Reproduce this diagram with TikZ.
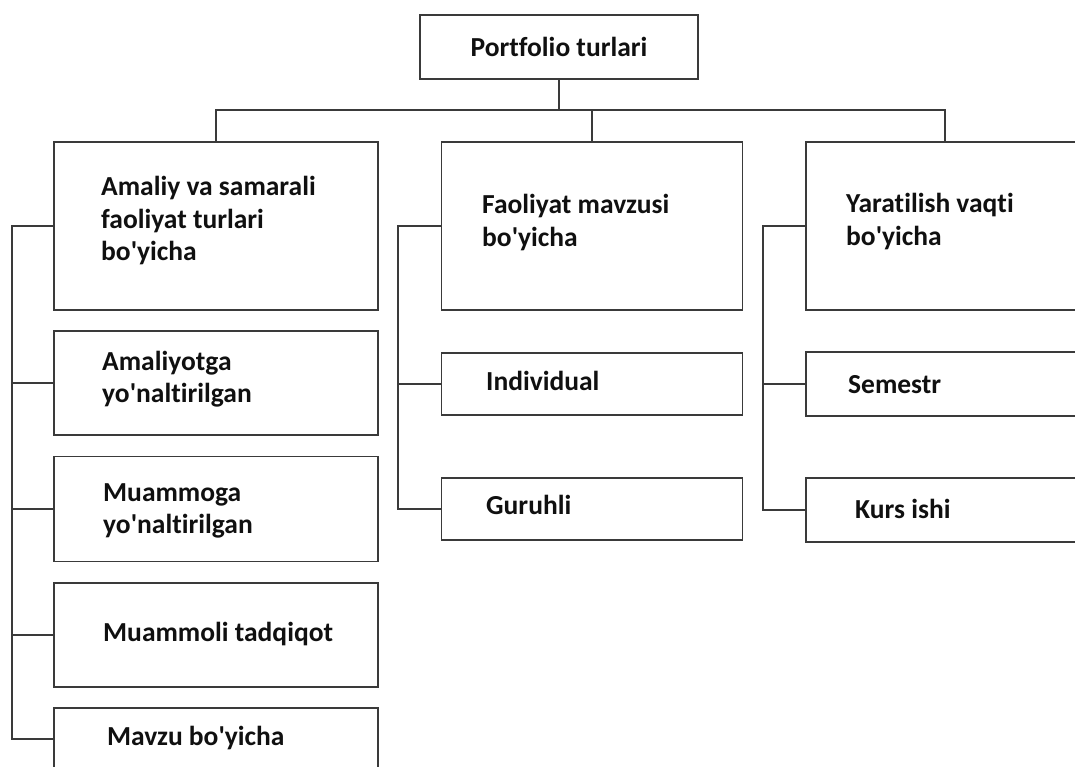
\documentclass[tikz,border=0pt]{standalone}
\usepackage{fontspec}
\setmainfont{Carlito}[Ligatures=NoCommon]
\definecolor{linegray}{HTML}{3a3a3a}
\definecolor{textblack}{HTML}{101010}
\newcommand{\ap}{\textquotesingle}
\newcommand{\lblfont}{\bfseries\fontsize{27.5}{32.5}\selectfont}
\newcommand{\txtlines}[1]{\begin{tabular}[t]{@{}l@{}}#1\end{tabular}}
\begin{document}
\begin{tikzpicture}[x=1pt,y=-1pt,
  box/.style={draw=linegray, line width=1.7pt, rectangle, inner sep=0pt},
  lbl/.style={anchor=base west, inner sep=0pt, font=\lblfont, text=textblack},
  conn/.style={draw=linegray, line width=1.7pt}]
\clip (0,0) rectangle (1075,767);
\fill[white] (0,0) rectangle (1075,767);
% top
\node[box, minimum width=278pt, minimum height=64pt, font=\lblfont, text=textblack] (top) at (559,47) {Portfolio turlari};
% left column
\node[box, minimum width=324pt, minimum height=168pt] (L1) at (216,226) {};
\node[box, minimum width=324pt, minimum height=104pt] (L2) at (216,383) {};
\node[box, minimum width=324pt, minimum height=105pt] (L3) at (216,509) {};
\node[box, minimum width=324pt, minimum height=104pt] (L4) at (216,635) {};
\node[box, minimum width=324pt, minimum height=62pt] (L5) at (216,739) {};
% middle column
\node[box, minimum width=301pt, minimum height=168pt] (M1) at (592,226) {};
\node[box, minimum width=301pt, minimum height=62pt] (M2) at (592,384) {};
\node[box, minimum width=301pt, minimum height=62pt] (M3) at (592,509) {};
% right column
\node[box, minimum width=278pt, minimum height=168pt] (R1) at (945,226) {};
\node[box, minimum width=278pt, minimum height=64pt] (R2) at (945,384) {};
\node[box, minimum width=278pt, minimum height=64pt] (R3) at (945,510) {};
% texts
\node[lbl] (tL1) at (101,196) {\txtlines{Amaliy va samarali\\faoliyat turlari\\bo\ap yicha}};
\node[lbl] (tL2) at (102,370) {\txtlines{Amaliyotga\\yo\ap naltirilgan}};
\node[lbl] (tL3) at (103,501) {\txtlines{Muammoga\\yo\ap naltirilgan}};
\node[lbl] (tL4) at (103,641) {Muammoli tadqiqot};
\node[lbl] (tL5) at (107,745) {Mavzu bo\ap yicha};
\node[lbl] (tM1) at (482,214) {\txtlines{Faoliyat mavzusi\\bo\ap yicha}};
\node[lbl] (tM2) at (486,390) {Individual};
\node[lbl] (tM3) at (486,514) {Guruhli};
\node[lbl] (tR1) at (846,213) {\txtlines{Yaratilish vaqti\\bo\ap yicha}};
\node[lbl] (tR2) at (848,393) {Semestr};
\node[lbl] (tR3) at (855,518) {Kurs ishi};
% connectors
\coordinate (bus) at (560,110);
\coordinate (lx) at (12,0);
\coordinate (mx) at (398,0);
\coordinate (rx) at (763,0);
\draw[conn] (top.south) -- (top.south |- bus);
\draw[conn] (L1.north) |- (bus) -| (R1.north);
\draw[conn] (M1.north) -- (M1.north |- bus);
\draw[conn] (L1.west) -- (L1.west -| lx) |- (L5.west);
\draw[conn] (L2.west) -- (L2.west -| lx);
\draw[conn] (L3.west) -- (L3.west -| lx);
\draw[conn] (L4.west) -- (L4.west -| lx);
\draw[conn] (M1.west) -- (M1.west -| mx) |- (M3.west);
\draw[conn] (M2.west) -- (M2.west -| mx);
\draw[conn] (R1.west) -- (R1.west -| rx) |- (R3.west);
\draw[conn] (R2.west) -- (R2.west -| rx);
\end{tikzpicture}
\end{document}
